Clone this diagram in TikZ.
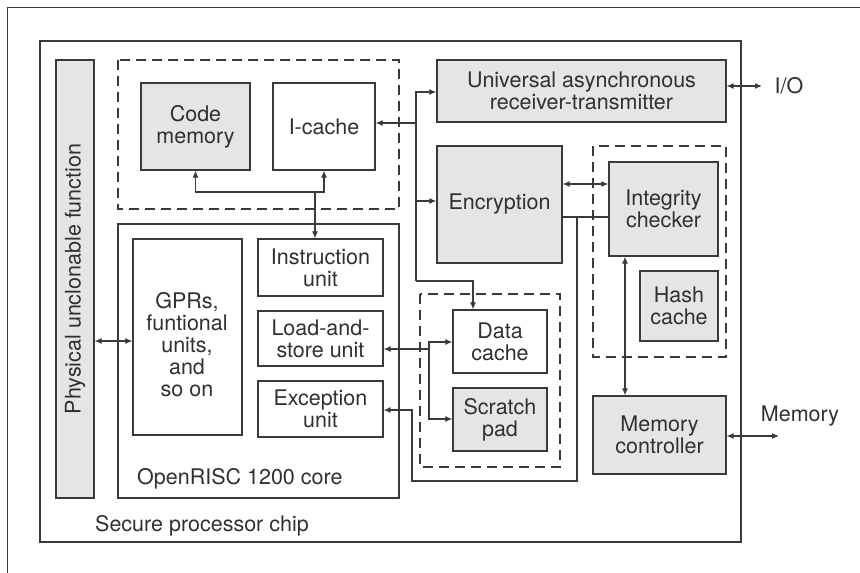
\documentclass[tikz,border=0pt]{standalone}
\usepackage{fontspec}
\setmainfont{TeX Gyre Heros}
\usetikzlibrary{arrows.meta}
\definecolor{linec}{HTML}{3A3A3A}
\definecolor{boxfill}{HTML}{E4E5E7}
\definecolor{txtc}{HTML}{303030}
\newcommand\lblfont{\fontsize{21.5}{22}\selectfont}
\tikzset{
  box/.style={draw=linec, line width=1.3pt, fill=white, inner sep=0pt, align=center, font=\lblfont, text=txtc},
  gbox/.style={box, fill=boxfill},
  dbox/.style={draw=linec, line width=1.3pt, dash pattern=on 10pt off 6pt},
  frame/.style={draw=linec, line width=1.3pt},
  wire/.style={draw=linec, line width=1.1pt},
  arr/.style={wire, -{Latex[length=7pt,width=6pt]}},
  both/.style={wire, {Latex[length=7pt,width=6pt]}-{Latex[length=7pt,width=6pt]}},
  lbl/.style={font=\lblfont, text=txtc, inner sep=0pt, align=center}
}
\begin{document}
\begin{tikzpicture}[x=1pt,y=-1pt]
\useasboundingbox (0,0) rectangle (860,573);
% outer frame (cropped)
\draw[draw=linec, line width=1pt] (7,573) -- (7,7) -- (860,7);
% chip
\draw[frame] (40,41) rectangle (741,542);
% dashed groups
\draw[dbox] (118,60) rectangle (399,209);
\draw[dbox] (593,146) rectangle (726,357);
\draw[dbox] (420,294) rectangle (560,467);
% core
\draw[frame] (118,224) rectangle (399,498);

% nodes
\node[gbox, minimum width=38, minimum height=438] (puf) at (75,279) {};
\node[lbl, rotate=90] at (puf.center) {Physical unclonable function};
\node[gbox, minimum width=109, minimum height=87] (code) at (195.5,126.5) {Code\\memory};
\node[box, minimum width=102, minimum height=87] (icache) at (324,126.5) {I-cache};
\node[box, minimum width=109, minimum height=196] (gpr) at (187.5,337) {};
\node[lbl] at (187,345) {GPRs,\\funtional\\units,\\and\\so on};
\node[box, minimum width=125, minimum height=57] (iu) at (320.5,267.5) {Instruction\\unit};
\node[box, minimum width=125, minimum height=55] (lsu) at (320.5,338.5) {Load-and-\\store unit};
\node[box, minimum width=125, minimum height=56] (exc) at (320.5,409) {Exception\\unit};
\node[gbox, minimum width=289, minimum height=62] (uart) at (581.5,91) {Universal asynchronous\\receiver-transmitter};
\node[gbox, minimum width=125, minimum height=117] (enc) at (499.5,204.5) {Encryption};
\node[gbox, minimum width=109, minimum height=94] (ic) at (663.5,209) {Integrity\\checker};
\node[gbox, minimum width=78, minimum height=70] (hc) at (679,306) {Hash\\cache};
\node[box, minimum width=94, minimum height=63] (dc) at (500,341.5) {Data\\cache};
\node[gbox, minimum width=94, minimum height=63] (sp) at (500,419.5) {Scratch\\pad};
\node[gbox, minimum width=133, minimum height=78] (mc) at (659.5,435) {Memory\\controller};

\node[lbl, anchor=west] (corelbl) at (137,479) {OpenRISC 1200 core};
\node[lbl, anchor=west] (chiplbl) at (95,526) {Secure processor chip};
\node[lbl] (io) at (789,86) {I/O};
\node[lbl] (mem) at (800,416) {Memory};

% coordinates
\coordinate (busTop) at (416,92);
\coordinate (busIC) at (416,123);
\coordinate (busEnc) at (416,201);
\coordinate (busBot) at (416,281);
\coordinate (busDC) at (473,281);
\coordinate (j1) at (315,192);
\coordinate (p1) at (94,341);
\coordinate (ls) at (429,349);
\coordinate (ls1) at (429,342);
\coordinate (ls2) at (429,419);
\coordinate (e1) at (412,410);
\coordinate (e2) at (412,481);
\coordinate (e3) at (577,481);
\coordinate (e4) at (577,217);
\coordinate (c1) at (585,184);
\coordinate (m1) at (625,300);
\coordinate (ioend) at (762,86);
\coordinate (memend) at (779,436);

% connectors
\draw[arr] (busBot) -- (busTop) -- (uart.west |- busTop);
\draw[arr] (busIC) -- (icache.east |- busIC);
\draw[arr] (busEnc) -- (enc.west |- busEnc);
\draw[arr] (busBot) -- (busDC) -- (busDC |- dc.north);
\draw[both] (code.south) |- (j1) -| (icache.south);
\draw[arr] (j1) -- (j1 |- iu.north);
\draw[both] (puf.east |- p1) -- (gpr.west |- p1);
\draw[arr] (ls) -- (lsu.east |- ls);
\draw[both] (dc.west |- ls1) -- (ls1) -- (ls2) -- (sp.west |- ls2);
\draw[arr] (e4) -- (e3) -- (e2) -- (e1) -- (exc.east |- e1);
\draw[wire] (enc.east |- e4) -- (ic.west |- e4);
\draw[both] (enc.east |- c1) -- (ic.west |- c1);
\draw[both] (ic.south -| m1) -- (mc.north -| m1);
\draw[both] (uart.east |- ioend) -- (ioend);
\draw[both] (mc.east |- memend) -- (memend);
\end{tikzpicture}
\end{document}
